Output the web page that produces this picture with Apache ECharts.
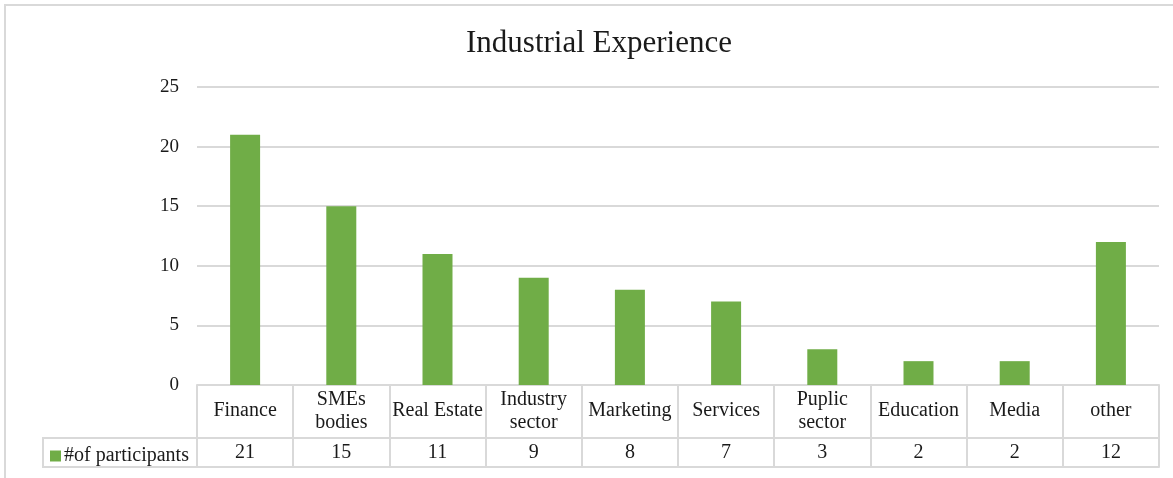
<!DOCTYPE html>
<html>
<head>
<meta charset="utf-8">
<script src="https://cdn.jsdelivr.net/npm/echarts@6/dist/echarts.min.js"></script>
<style>
  html, body { margin: 0; padding: 0; background: #fff; }
  #chart { width: 1173px; height: 478px; }
</style>
</head>
<body>
<div id="chart"></div>
<script>
const categories = ["Finance", "SMEs\nbodies", "Real Estate", "Industry\nsector", "Marketing",
  "Services", "Puplic\nsector", "Education", "Media", "other"];
const participants = [21, 15, 11, 9, 8, 7, 3, 2, 2, 12];
const seriesName = "#of participants";
const yTicks = { min: 0, max: 25, interval: 5 };

const FONT = "'Liberation Serif', 'Times New Roman', serif";
const GRID_COLOR = "#d9d9d9";
const TEXT_COLOR = "#1a1a1a";

const chart = echarts.init(document.getElementById("chart"));

chart.setOption({
  animation: false,
  title: {
    text: "Industrial Experience",
    left: 461,
    top: 23,
    textStyle: { fontFamily: FONT, fontSize: 31, fontWeight: "normal", color: TEXT_COLOR },
  },
  legend: {
    data: [seriesName],
    left: 45,
    top: 441,
    itemWidth: 11,
    itemHeight: 11,
    itemGap: 3,
    icon: "rect",
    textStyle: { fontFamily: FONT, fontSize: 20, color: TEXT_COLOR, padding: [0, 0, 0, -2] },
  },
  grid: { left: 197, right: 14, top: 87, bottom: 93 },
  xAxis: [
    {
      type: "category",
      data: categories,
      position: "bottom",
      axisLine: { show: true, lineStyle: { color: GRID_COLOR, width: 2 } },
      axisTick: { show: true, length: 82, lineStyle: { color: GRID_COLOR, width: 2 } },
      axisLabel: {
        interval: 0,
        margin: 26,
        verticalAlign: "middle",
        lineHeight: 23,
        fontFamily: FONT,
        fontSize: 20,
        color: TEXT_COLOR,
      },
    },
    {
      type: "category",
      data: participants.map(String),
      position: "bottom",
      offset: 53,
      axisLine: { show: true, lineStyle: { color: GRID_COLOR, width: 2 } },
      axisTick: { show: false },
      axisLabel: {
        interval: 0,
        margin: 15,
        verticalAlign: "middle",
        fontFamily: FONT,
        fontSize: 20,
        color: TEXT_COLOR,
      },
    },
    {
      type: "category",
      data: categories,
      position: "bottom",
      offset: 82,
      axisLine: { show: true, lineStyle: { color: GRID_COLOR, width: 2 } },
      axisTick: { show: false },
      axisLabel: { show: false },
    },
  ],
  yAxis: {
    type: "value",
    min: yTicks.min,
    max: yTicks.max,
    interval: yTicks.interval,
    axisLine: { show: false },
    axisTick: { show: false },
    splitLine: { lineStyle: { color: GRID_COLOR, width: 2 } },
    axisLabel: { margin: 18, fontFamily: FONT, fontSize: 19, color: TEXT_COLOR },
  },
  series: [
    {
      name: seriesName,
      type: "bar",
      data: participants,
      barWidth: 30,
      itemStyle: { color: "#70ad47" },
    },
  ],
  graphic: [
    // legend cell of the data table
    {
      type: "rect",
      shape: { x: 43, y: 438, width: 154, height: 29 },
      style: { fill: "none", stroke: GRID_COLOR, lineWidth: 2 },
    },
    // outer chart border (top and left visible)
    {
      type: "polyline",
      shape: { points: [[5, 478], [5, 5], [1173, 5]] },
      style: { fill: "none", stroke: GRID_COLOR, lineWidth: 2 },
    },
  ],
});

window.addEventListener("resize", () => chart.resize());
</script>
</body>
</html>
